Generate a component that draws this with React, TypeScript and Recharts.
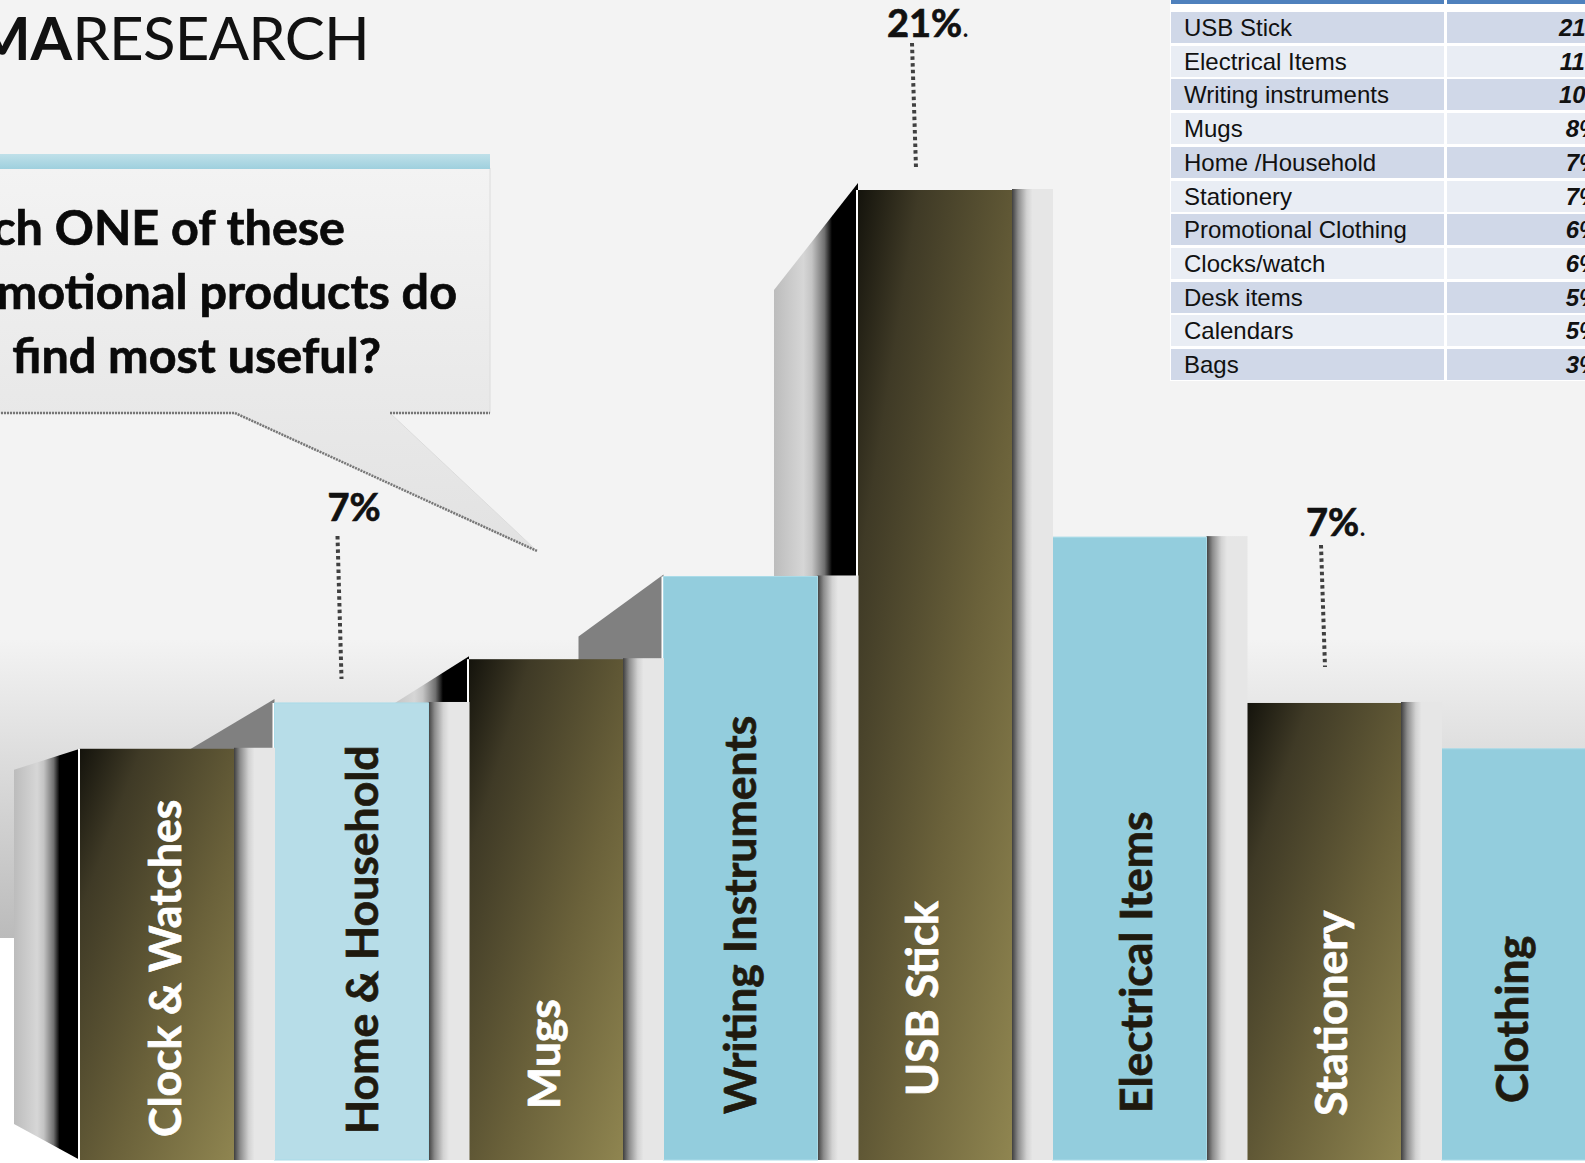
import { BarChart, Bar, XAxis, YAxis } from 'recharts';

const barCategories = [
  'Clock & Watches',
  'Home & Household',
  'Mugs',
  'Writing Instruments',
  'USB Stick',
  'Electrical Items',
  'Stationery',
  'Clothing',
];
const barShares = [6, 7, 8, 10, 21, 11, 7, 6];

const tableItems = [
  'USB Stick',
  'Electrical Items',
  'Writing instruments',
  'Mugs',
  'Home /Household',
  'Stationery',
  'Promotional Clothing',
  'Clocks/watch',
  'Desk items',
  'Calendars',
  'Bags',
];
const tableShares = [21, 11, 10, 8, 7, 7, 6, 6, 5, 5, 3];

const questionLines = ['ch ONE of these', 'motional products do', 'find most useful?'];

// bars are compressed rather than proportional, so heights run on a power axis
const HEIGHT_POWER = 0.685;

const rows = barCategories
  .map((name, i) => ({ name, share: barShares[i], level: Math.pow(barShares[i], HEIGHT_POWER) }))
  .reverse();

interface BarLook {
  fill: string;
  textFill: string;
  textDx: number;
  textBottom: number;
  back?: { kind: 'shaded' | 'flat'; width: number; rise: number; drop: number; lift?: number };
  note?: { dx: number; gap: number; length: number; labelDx: number; labelGap: number; dot?: boolean };
}

const OLIVE = 'url(#oliveFace)';
const barLooks: Record<string, BarLook> = {
  'Clock & Watches': {
    fill: OLIVE,
    textFill: '#ffffff',
    textDx: 101,
    textBottom: 23,
    back: { kind: 'shaded', width: 66, rise: 0, drop: 21, lift: 36 },
  },
  'Home & Household': {
    fill: '#b7dde8',
    textFill: '#1f1a0f',
    textDx: 103,
    textBottom: 26,
    back: { kind: 'flat', width: 84, rise: 4, drop: 46 },
    note: { dx: 67, gap: 24, length: 143, labelDx: 53, labelGap: 182 },
  },
  Mugs: {
    fill: OLIVE,
    textFill: '#ffffff',
    textDx: 91,
    textBottom: 51,
    back: { kind: 'shaded', width: 84, rise: 3, drop: 50 },
  },
  'Writing Instruments': {
    fill: '#93cddd',
    textFill: '#1f1a0f',
    textDx: 92,
    textBottom: 46,
    back: { kind: 'flat', width: 85, rise: 2, drop: 60 },
  },
  'USB Stick': {
    fill: OLIVE,
    textFill: '#ffffff',
    textDx: 80,
    textBottom: 64,
    back: { kind: 'shaded', width: 84, rise: 7, drop: 100 },
    note: { dx: 58, gap: 22, length: 125, labelDx: 29, labelGap: 153 },
  },
  'Electrical Items': {
    fill: '#93cddd',
    textFill: '#1f1a0f',
    textDx: 99,
    textBottom: 47,
  },
  Stationery: {
    fill: OLIVE,
    textFill: '#ffffff',
    textDx: 100,
    textBottom: 44,
    note: { dx: 78, gap: 36, length: 122, labelDx: 59, labelGap: 167, dot: true },
  },
  Clothing: {
    fill: '#93cddd',
    textFill: '#1f1a0f',
    textDx: 86,
    textBottom: 57,
  },
};

const FRONT_WIDTH = 154;

function ProductBar(props: any) {
  const { x, y, width, height, payload } = props;
  const look = barLooks[payload.name];
  const bottom = y + height;
  const { back, note } = look;

  return (
    <g>
      {back && (
        <polygon
          points={[
            `${x - back.width},${y + back.drop}`,
            `${x},${y - back.rise}`,
            `${x},${bottom}`,
            `${x - back.width},${bottom - (back.lift ?? 0)}`,
          ].join(' ')}
          fill={back.kind === 'shaded' ? 'url(#backFace)' : '#808080'}
        />
      )}
      <rect x={x - 2} y={y} width={2} height={height} fill="#ffffff" />
      <rect x={x + FRONT_WIDTH} y={y - 1} width={width - FRONT_WIDTH} height={height + 1} fill="url(#sideFace)" />
      <rect
        x={x}
        y={y}
        width={FRONT_WIDTH}
        height={height}
        fill={look.fill}
        stroke={look.fill === OLIVE ? 'none' : '#a9dbe8'}
      />
      <text
        transform={`translate(${x + look.textDx},${bottom - look.textBottom}) rotate(-90)`}
        fontFamily="Lato"
        fontWeight={700}
        fontSize={44.5}
        fill={look.textFill}
        stroke={look.textFill}
        strokeWidth={0.7}
      >
        {payload.name}
      </text>
      {note && (
        <g>
          <line
            x1={x + note.dx - 4}
            y1={y - note.gap - note.length}
            x2={x + note.dx}
            y2={y - note.gap}
            stroke="#404040"
            strokeWidth={4}
            strokeDasharray="3.5 3.2"
          />
          <text
            x={x + note.labelDx}
            y={y - note.labelGap}
            fontFamily="Lato"
            fontWeight={700}
            fontSize={38}
            fill="#111111"
            stroke="#111111"
            strokeWidth={0.7}
          >
            {payload.share}%
            {(note.dot || payload.share > 10) && (
              <tspan fontWeight={400} fontSize={28} strokeWidth={0}>
                .
              </tspan>
            )}
          </text>
        </g>
      )}
    </g>
  );
}

function QuestionBubble() {
  return (
    <svg width={1585} height={1163} style={{ position: 'absolute', left: 0, top: 0 }}>
      <defs>
        <linearGradient id="bubbleFill" x1="0" y1="0" x2="0" y2="1">
          <stop offset="0" stopColor="#f3f3f3" />
          <stop offset="1" stopColor="#e2e2e2" />
        </linearGradient>
        <linearGradient id="bubbleBand" x1="0" y1="0" x2="0" y2="1">
          <stop offset="0" stopColor="#bfe0e9" />
          <stop offset="1" stopColor="#9fd0de" />
        </linearGradient>
      </defs>
      <text x={369} y={60} textAnchor="end" fontFamily="Lato" fontSize={60} fill="#111111">
        <tspan fontWeight={700}>MA</tspan>
        <tspan fontWeight={400} letterSpacing={-0.8}>
          RESEARCH
        </tspan>
      </text>
      <polygon
        points="-5,168 490,168 490,413 390,413 537,551 235,413 -5,413"
        fill="url(#bubbleFill)"
        stroke="#dcdcdc"
        strokeWidth={1}
      />
      <polyline points="-5,413 235,413 537,551" fill="none" stroke="#777777" strokeWidth={2.5} strokeDasharray="2 1" />
      <line x1={390} y1={413} x2={490} y2={413} stroke="#777777" strokeWidth={2.5} strokeDasharray="2 1" />
      <rect x={0} y={154} width={490} height={15} fill="url(#bubbleBand)" />
      {questionLines.map((line, i) => (
        <text
          key={line}
          x={[345, 457, 381][i]}
          y={245 + i * 64}
          textAnchor="end"
          fontFamily="Lato"
          fontWeight={700}
          fontSize={48.5}
          fill="#0a0a0a"
          stroke="#0a0a0a"
          strokeWidth={0.7}
        >
          {line}
        </text>
      ))}
    </svg>
  );
}

function ShareTable() {
  return (
    <div
      style={{
        position: 'absolute',
        left: 1170,
        top: 0,
        width: 415,
        height: 381,
        overflow: 'hidden',
        background: '#ffffff',
        fontFamily: '"Liberation Sans"',
        fontSize: 24,
        color: '#111111',
      }}
    >
      <div style={{ position: 'absolute', left: 1, top: 0, width: 273, height: 4, background: '#4f81bd' }} />
      <div style={{ position: 'absolute', left: 277, top: 0, width: 138, height: 4, background: '#4f81bd' }} />
      {tableItems.map((item, i) => {
        const top = 12 + i * 33.7;
        const shade = i % 2 === 0 ? '#d0d8e8' : '#e9edf4';
        return (
          <div key={item}>
            <div
              style={{
                position: 'absolute',
                left: 1,
                top,
                width: 273,
                height: 31,
                lineHeight: '32.5px',
                background: shade,
                whiteSpace: 'nowrap',
              }}
            >
              <span style={{ marginLeft: 13 }}>{item}</span>
            </div>
            <div style={{ position: 'absolute', left: 277, top, width: 138, height: 31, background: shade }} />
            <div
              style={{
                position: 'absolute',
                left: 353,
                top,
                width: 120,
                height: 31,
                lineHeight: '32.5px',
                textAlign: 'center',
                fontWeight: 700,
                fontStyle: 'italic',
              }}
            >
              {tableShares[i]}%
            </div>
          </div>
        );
      })}
    </div>
  );
}

export default function App() {
  return (
    <div
      style={{
        position: 'absolute',
        left: 0,
        top: 0,
        width: 1585,
        height: 1163,
        overflow: 'hidden',
        background: 'linear-gradient(#f3f3f3 0px, #f3f3f3 640px, #bbbbbb 938px, #ffffff 938px)',
      }}
    >
      <QuestionBubble />
      <div style={{ position: 'absolute', left: 0, top: 0 }}>
        <BarChart
          width={1636}
          height={1163}
          data={rows}
          margin={{ top: 190, right: 0, bottom: 3, left: 80 }}
          barCategoryGap={0}
        >
          <defs>
            <linearGradient id="oliveFace" x1="0" y1="0" x2="1" y2="1">
              <stop offset="0" stopColor="#14130c" />
              <stop offset="0.2" stopColor="#3f3a26" />
              <stop offset="0.6" stopColor="#6a613a" />
              <stop offset="1" stopColor="#8f8550" />
            </linearGradient>
            <linearGradient id="sideFace" x1="0" y1="0" x2="1" y2="0">
              <stop offset="0" stopColor="#3f3f3f" />
              <stop offset="0.15" stopColor="#8c8c8c" />
              <stop offset="0.36" stopColor="#d2d2d2" />
              <stop offset="0.5" stopColor="#e6e6e6" />
              <stop offset="1" stopColor="#e6e6e6" />
            </linearGradient>
            <linearGradient id="backFace" x1="0" y1="0" x2="1" y2="0">
              <stop offset="0" stopColor="#bcbcbc" />
              <stop offset="0.35" stopColor="#d6d6d6" />
              <stop offset="0.45" stopColor="#c4c4c4" />
              <stop offset="0.6" stopColor="#707070" />
              <stop offset="0.69" stopColor="#000000" />
              <stop offset="1" stopColor="#000000" />
            </linearGradient>
          </defs>
          <XAxis dataKey="name" type="category" reversed hide />
          <YAxis type="number" domain={[0, Math.pow(21, HEIGHT_POWER)]} hide />
          <Bar dataKey="level" isAnimationActive={false} shape={ProductBar} />
        </BarChart>
      </div>
      <ShareTable />
    </div>
  );
}
